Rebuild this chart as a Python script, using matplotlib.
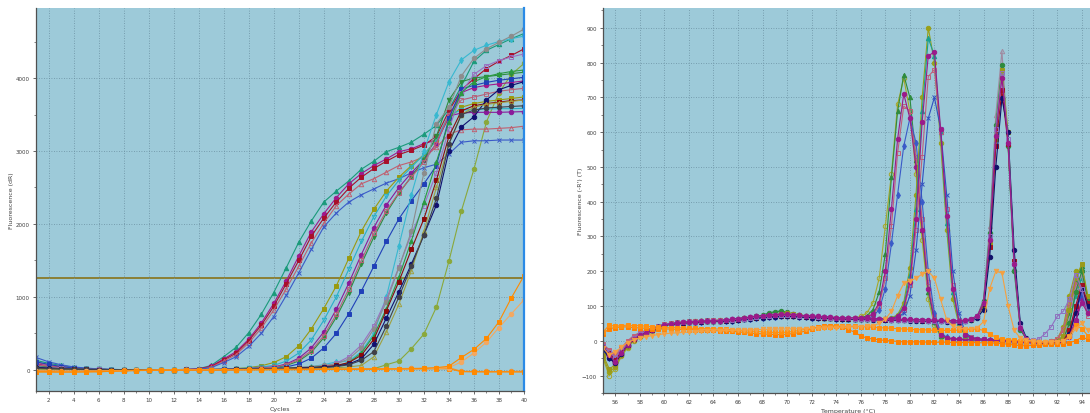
import numpy as np
import matplotlib.pyplot as plt
from matplotlib.ticker import MultipleLocator

# ---------------- amplification plot data (dR per cycle) ----------------
cycles = np.arange(1, 41)
threshold = 1260

amp_teal_tri = [130, 90, 60, 35, 20, 10, 5, 3, 2, 2,
                2, 3, 5, 15, 60, 180, 310, 510, 760, 1060,
                1400, 1750, 2040, 2300, 2450, 2590, 2750, 2860, 2990, 3050,
                3120, 3230, 3350, 3570, 3890, 4230, 4380, 4460, 4540, 4610]
amp_magenta_circ = [80, 60, 40, 25, 15, 8, 4, 2, 2, 2,
                    2, 3, 5, 12, 50, 150, 250, 420, 640, 910,
                    1220, 1560, 1890, 2140, 2360, 2550, 2690, 2800, 2890, 2990,
                    3030, 3100, 3150, 3480, 3800, 3870, 3900, 3920, 3940, 3960]
amp_red_sq = [60, 40, 30, 20, 12, 6, 3, 2, 2, 2,
              2, 3, 5, 10, 45, 135, 230, 400, 610, 870,
              1180, 1500, 1830, 2080, 2300, 2490, 2640, 2760, 2860, 2950,
              3010, 3080, 3200, 3550, 3840, 3990, 4130, 4230, 4310, 4400]
amp_pink_tri = [100, 70, 45, 28, 15, 8, 4, 2, 2, 2,
                2, 3, 4, 8, 35, 120, 210, 370, 570, 820,
                1110, 1420, 1740, 2010, 2250, 2410, 2550, 2620, 2710, 2800,
                2850, 2920, 3050, 3230, 3290, 3300, 3300, 3310, 3320, 3340]
amp_blue_x = [170, 110, 70, 40, 25, 12, 6, 3, 2, 2,
              2, 3, 4, 8, 30, 100, 180, 320, 500, 730,
              1020, 1330, 1650, 1960, 2150, 2300, 2400, 2480, 2560, 2620,
              2700, 2770, 2820, 2960, 3120, 3140, 3140, 3150, 3150, 3150]
amp_olive_sq = [40, 30, 20, 12, 8, 5, 3, 2, 2, 2,
                2, 2, 3, 4, 6, 10, 18, 30, 55, 100,
                180, 330, 560, 840, 1150, 1530, 1900, 2200, 2450, 2640,
                2800, 2950, 3150, 3450, 3600, 3650, 3680, 3700, 3720, 3740]
amp_cyan_tri = [50, 35, 25, 15, 10, 6, 3, 2, 2, 2,
                2, 2, 3, 4, 6, 9, 15, 25, 40, 60,
                120, 230, 410, 680, 1000, 1380, 1760, 2100, 2380, 2600,
                2780, 2950, 3150, 3500, 3560, 3570, 3575, 3580, 3580, 3585]
amp_purple_circ = [30, 20, 15, 10, 6, 4, 2, 2, 2, 2,
                   2, 2, 3, 3, 5, 8, 12, 18, 28, 40,
                   80, 160, 300, 520, 830, 1190, 1580, 1950, 2260, 2500,
                   2700, 2880, 3100, 3480, 3520, 3530, 3530, 3530, 3535, 3540]
amp_green_tri = [60, 40, 25, 15, 10, 6, 3, 2, 2, 2,
                 2, 2, 2, 3, 4, 6, 10, 15, 22, 30,
                 60, 120, 240, 440, 720, 1060, 1450, 1820, 2150, 2420,
                 2650, 2880, 3200, 3700, 3950, 4000, 4020, 4040, 4060, 4080]
amp_pink_sq = [70, 50, 30, 18, 10, 6, 3, 2, 2, 2,
               2, 2, 3, 3, 5, 8, 12, 18, 25, 35,
               70, 140, 260, 470, 760, 1110, 1500, 1870, 2180, 2430,
               2640, 2850, 3100, 3500, 3700, 3740, 3780, 3820, 3840, 3860]
amp_blue_sq = [110, 75, 45, 25, 15, 8, 4, 2, 2, 2,
               2, 2, 2, 3, 4, 6, 8, 12, 16, 20,
               40, 80, 160, 300, 500, 770, 1080, 1420, 1760, 2070,
               2320, 2550, 2800, 3450, 3850, 3900, 3940, 3970, 3990, 4010]
amp_cyan_dia = [20, 15, 10, 8, 5, 3, 2, 2, 2, 2,
                2, 2, 2, 2, 3, 4, 5, 7, 10, 14,
                20, 30, 45, 70, 110, 120, 250, 500, 1000, 1700,
                2400, 3000, 3500, 3950, 4250, 4380, 4450, 4500, 4540, 4575]
amp_lilac_sq = [40, 30, 20, 12, 8, 5, 3, 2, 2, 2,
                2, 2, 2, 2, 2, 3, 3, 4, 5, 8,
                12, 18, 28, 45, 90, 180, 340, 600, 970, 1410,
                1860, 2250, 2700, 3300, 3800, 4050, 4170, 4240, 4290, 4330]
amp_gray_circ = [30, 20, 14, 9, 6, 4, 2, 2, 2, 2,
                 2, 2, 2, 2, 3, 4, 5, 8, 12, 18,
                 25, 35, 45, 60, 80, 150, 300, 560, 930, 1400,
                 1900, 2700, 3370, 3600, 4030, 4270, 4400, 4490, 4575, 4670]
amp_green_tri2 = [25, 18, 12, 8, 5, 3, 2, 2, 2, 2,
                  2, 2, 2, 2, 3, 4, 5, 8, 12, 18,
                  22, 28, 34, 42, 50, 100, 230, 470, 840, 1270,
                  1770, 2300, 2850, 3400, 3800, 3950, 4020, 4060, 4090, 4110]
amp_maroon_sq = [20, 15, 10, 7, 5, 3, 2, 2, 2, 2,
                 2, 2, 2, 2, 3, 4, 5, 7, 10, 15,
                 20, 25, 32, 42, 60, 100, 200, 420, 810, 1210,
                 1650, 2070, 2600, 3200, 3550, 3620, 3650, 3670, 3690, 3700]
amp_navy_circ = [35, 25, 16, 10, 6, 4, 2, 2, 2, 2,
                 2, 2, 2, 2, 3, 4, 5, 7, 10, 14,
                 18, 22, 28, 36, 50, 80, 150, 350, 710, 1070,
                 1450, 1850, 2260, 3000, 3330, 3470, 3700, 3840, 3900, 3950]
amp_olive_tri = [15, 10, 8, 6, 4, 3, 2, 2, 2, 2,
                 2, 2, 2, 2, 2, 3, 4, 5, 7, 10,
                 12, 15, 18, 22, 28, 40, 60, 180, 520, 900,
                 1360, 1900, 2500, 3100, 3500, 3600, 3640, 3660, 3680, 3700]
amp_dgray_circ = [25, 18, 12, 8, 5, 3, 2, 2, 2, 2,
                  2, 2, 2, 2, 3, 4, 5, 7, 9, 12,
                  15, 20, 25, 32, 45, 70, 130, 250, 600, 1000,
                  1420, 1850, 2350, 3100, 3500, 3560, 3590, 3600, 3610, 3620]
amp_late_olive = [10, 8, 6, 4, 3, 2, 2, 2, 2, 2,
                  2, 2, 2, 2, 2, 2, 3, 3, 4, 4,
                  5, 5, 6, 7, 8, 9, 10, 15, 70, 120,
                  290, 490, 860, 1490, 2180, 2750, 3400, 3800, 4050, 4200]
amp_orange_sq = [-25, -25, -28, -28, -26, -25, -20, -15, -10, -8,
                 -6, -5, -4, -3, -2, -1, 0, 0, 1, 2,
                 2, 3, 4, 5, 6, 6, 7, 8, 10, 12,
                 15, 20, 30, 50, 170, 280, 430, 660, 990, 1290]
amp_orange_lt = [-20, -22, -24, -24, -22, -20, -16, -12, -8, -6,
                 -4, -3, -2, -1, 0, 0, 1, 1, 2, 2,
                 3, 3, 4, 4, 5, 5, 6, 7, 8, 10,
                 12, 15, 20, 30, 110, 230, 380, 580, 770, 960]
amp_orange_flat = [-30, -30, -30, -30, -28, -26, -20, -12, -8, -6,
                   -4, -3, -2, -1, 0, 1, 2, 3, 4, 5,
                   6, 6, 7, 8, 8, 9, 10, 10, 11, 12,
                   12, 13, 14, 15, -25, -28, -30, -28, -30, -30]
amp_orange_flat2 = [-10, -12, -15, -15, -14, -12, -10, -8, -6, -4,
                    -2, -1, 0, 1, 2, 3, 4, 5, 6, 7,
                    8, 9, 10, 11, 12, 13, 14, 15, 16, 18,
                    20, 22, 25, 30, -20, -22, -22, -24, -22, -20]

# ---------------- melt curve data (-R'(T), 55.0 .. 94.5 step 0.5) ----------------
temps = np.arange(55.0, 95.0, 0.5)

melt_g1_green = [-15, -35, -55, -30, -10, 8, 20, 26, 32, 40, 46, 49, 51, 53, 54, 55, 56, 57, 58, 58,
                 59, 60, 62, 64, 66, 68, 72, 78, 82, 85, 80, 75, 72, 70, 69, 68, 67, 66, 66, 65,
                 64, 64, 66, 72, 90, 140, 250, 470, 660, 765, 700, 520, 320, 140, 55, 15, 8, 6, 5, 4,
                 4, 3, 3, 2, 2, 1, 0, -1, -2, -3, -4, -5, -5, -4, -2, 15, 80, 170, 215, 120]
melt_g1_olive = [-50, -100, -80, -45, -20, 0, 12, 20, 28, 36, 44, 47, 50, 52, 54, 55, 56, 57, 57, 58,
                 58, 59, 61, 63, 65, 67, 69, 71, 72, 73, 73, 72, 71, 70, 69, 68, 67, 66, 65, 65,
                 65, 66, 70, 80, 110, 180, 330, 480, 680, 755, 660, 480, 290, 120, 45, 12, 7, 5, 4, 4,
                 3, 3, 2, 2, 1, 0, -1, -2, -3, -4, -5, -5, -5, -3, 0, 30, 110, 180, 140, 80]
melt_g1_magenta = [-20, -45, -70, -40, -15, 3, 15, 22, 30, 38, 45, 48, 50, 52, 53, 55, 56, 56, 57, 58,
                   60, 62, 64, 66, 68, 70, 72, 74, 75, 76, 76, 75, 74, 72, 71, 70, 69, 68, 67, 66,
                   65, 65, 65, 68, 78, 110, 200, 380, 580, 710, 640, 500, 320, 150, 60, 18, 8, 5, 4, 3,
                   3, 2, 2, 1, 0, -1, -2, -3, -4, -5, -6, -6, -6, -5, -4, -2, 10, 50, 120, 90]
melt_g1_pink = [-10, -25, -40, -20, 0, 15, 24, 30, 36, 42, 48, 51, 53, 55, 56, 57, 58, 59, 60, 60,
                60, 61, 62, 63, 65, 66, 68, 69, 70, 71, 71, 70, 69, 68, 67, 66, 66, 65, 64, 64,
                63, 63, 63, 66, 75, 100, 180, 330, 540, 675, 660, 530, 350, 170, 70, 20, 9, 6, 5, 4,
                4, 3, 3, 2, 2, 1, 0, -1, -2, -3, -4, -4, -3, -1, 5, 30, 90, 160, 130, 70]
melt_g1_blue = [-25, -50, -60, -35, -12, 5, 18, 25, 32, 40, 46, 49, 51, 52, 53, 54, 55, 56, 57, 57,
                57, 58, 60, 62, 63, 65, 67, 68, 69, 70, 70, 70, 69, 68, 67, 66, 66, 65, 64, 64,
                63, 63, 63, 64, 70, 90, 150, 280, 420, 560, 640, 570, 400, 200, 80, 25, 10, 6, 5, 4,
                4, 3, 2, 2, 1, 0, -1, -2, -3, -4, -5, -5, -5, -4, -3, 0, 20, 80, 140, 100]
melt_g2_olive = [-45, -90, -75, -40, -18, 2, 14, 22, 30, 38, 45, 48, 51, 53, 55, 56, 57, 58, 58, 59,
                 60, 61, 63, 65, 67, 69, 71, 72, 73, 73, 72, 71, 70, 69, 68, 67, 66, 65, 65, 64,
                 64, 64, 63, 63, 63, 63, 64, 66, 75, 110, 210, 420, 700, 900, 800, 570, 320, 120, 45, 14,
                 8, 5, 4, 3, 2, 1, 0, -1, -2, -3, -4, -4, -3, -1, 5, 40, 130, 200, 160, 90]
melt_g2_teal = [-15, -35, -50, -28, -8, 10, 22, 28, 34, 41, 47, 50, 52, 54, 55, 56, 57, 58, 58, 59,
                60, 61, 63, 65, 67, 69, 71, 73, 74, 75, 74, 73, 72, 71, 70, 69, 68, 67, 66, 65,
                64, 64, 64, 63, 63, 63, 63, 65, 72, 100, 190, 380, 660, 870, 820, 600, 340, 140, 50, 16,
                8, 6, 4, 3, 2, 1, 0, -1, -2, -3, -4, -5, -5, -4, -2, 5, 50, 130, 180, 120]
melt_g2_magenta = [-20, -40, -65, -38, -14, 4, 16, 23, 31, 39, 46, 49, 51, 53, 54, 55, 56, 57, 58, 58,
                   60, 62, 64, 66, 68, 70, 72, 74, 76, 77, 77, 76, 74, 72, 70, 69, 68, 67, 66, 65,
                   65, 65, 64, 64, 63, 63, 63, 64, 70, 95, 170, 350, 630, 820, 830, 610, 360, 150, 55, 18,
                   9, 6, 4, 3, 2, 1, 0, -1, -2, -4, -5, -6, -6, -5, -4, -2, 20, 90, 150, 110]
melt_g2_pink = [-12, -28, -45, -24, -3, 12, 22, 28, 34, 41, 47, 50, 52, 54, 55, 56, 57, 58, 59, 59,
                60, 61, 62, 64, 65, 67, 68, 70, 71, 72, 72, 71, 70, 69, 68, 67, 66, 65, 65, 64,
                64, 64, 63, 63, 63, 63, 63, 64, 68, 90, 160, 320, 530, 760, 780, 600, 380, 160, 60, 20,
                10, 6, 4, 3, 2, 1, 0, -1, -2, -3, -4, -4, -3, -1, 5, 35, 110, 170, 150, 100]
melt_g2_blue = [-22, -48, -58, -33, -11, 6, 18, 25, 32, 40, 46, 49, 51, 52, 53, 54, 55, 56, 57, 57,
                58, 59, 60, 62, 64, 65, 67, 68, 69, 70, 70, 70, 69, 68, 67, 66, 66, 65, 64, 64,
                63, 63, 63, 63, 63, 62, 62, 63, 66, 80, 130, 260, 450, 640, 700, 610, 420, 200, 80, 25,
                10, 6, 4, 3, 2, 1, 0, -1, -2, -3, -4, -5, -5, -4, -3, 0, 25, 90, 130, 90]
melt_g3_gray = [-18, -38, -52, -30, -10, 7, 19, 26, 32, 40, 46, 49, 51, 53, 54, 55, 56, 57, 57, 58,
                59, 60, 62, 64, 66, 68, 70, 71, 72, 72, 72, 72, 71, 70, 69, 68, 67, 66, 66, 65,
                65, 64, 64, 63, 63, 62, 62, 61, 61, 60, 60, 60, 59, 59, 58, 58, 57, 57, 57, 58,
                62, 72, 120, 330, 650, 832, 570, 210, 35, 5, 0, -3, -4, -4, -2, 10, 60, 150, 190, 110]
melt_g3_green = [-20, -42, -62, -36, -12, 5, 17, 24, 31, 39, 45, 48, 50, 52, 54, 55, 56, 57, 58, 58,
                 59, 61, 63, 65, 67, 70, 74, 80, 84, 86, 82, 77, 73, 71, 70, 69, 68, 67, 66, 65,
                 65, 64, 64, 63, 63, 62, 62, 61, 61, 60, 60, 59, 59, 58, 58, 57, 57, 56, 56, 57,
                 61, 70, 115, 310, 620, 794, 560, 200, 32, 4, -1, -3, -5, -5, -3, 5, 50, 140, 200, 120]
melt_g3_olive = [-40, -80, -70, -40, -16, 3, 15, 22, 30, 38, 45, 48, 50, 52, 54, 55, 56, 57, 57, 58,
                 58, 59, 61, 63, 65, 67, 69, 72, 75, 78, 80, 78, 75, 72, 70, 68, 67, 66, 65, 65,
                 64, 64, 63, 63, 62, 62, 61, 61, 60, 60, 60, 59, 59, 58, 58, 57, 57, 57, 56, 57,
                 60, 68, 100, 280, 580, 780, 600, 230, 40, 6, 0, -2, -4, -4, -2, 15, 90, 180, 220, 130]
melt_g3_magenta = [-18, -40, -60, -35, -13, 4, 16, 23, 31, 39, 46, 49, 51, 53, 54, 55, 56, 57, 58, 58,
                   60, 62, 64, 66, 68, 70, 72, 74, 75, 76, 76, 75, 74, 72, 71, 70, 69, 68, 67, 66,
                   66, 66, 65, 65, 64, 64, 63, 63, 62, 62, 62, 61, 61, 60, 60, 59, 59, 58, 58, 60,
                   64, 72, 110, 290, 590, 757, 570, 220, 38, 5, -2, -5, -6, -6, -5, -3, 15, 60, 110, 80]
melt_g3_red = [-16, -36, -54, -31, -11, 6, 18, 25, 31, 39, 45, 48, 50, 52, 53, 54, 55, 56, 57, 57,
               58, 59, 61, 63, 65, 67, 69, 70, 71, 72, 72, 71, 70, 69, 68, 67, 66, 65, 65, 64,
               64, 63, 63, 62, 62, 61, 61, 60, 60, 60, 59, 59, 58, 58, 57, 57, 56, 56, 56, 58,
               62, 70, 105, 270, 560, 720, 566, 230, 40, 6, 0, -3, -4, -4, -3, 0, 30, 100, 160, 110]
melt_g3_navy = [-24, -50, -64, -37, -13, 4, 16, 24, 31, 39, 45, 48, 50, 52, 53, 54, 55, 56, 57, 57,
                57, 58, 60, 62, 63, 65, 67, 68, 69, 70, 70, 70, 69, 68, 67, 66, 66, 65, 64, 64,
                63, 63, 62, 62, 61, 61, 60, 60, 59, 59, 58, 58, 57, 57, 56, 56, 55, 55, 55, 57,
                60, 66, 90, 240, 500, 697, 600, 260, 50, 8, 0, -3, -5, -5, -4, -2, 20, 80, 150, 100]
melt_g3_lilac = [-15, -32, -48, -27, -8, 9, 20, 27, 33, 40, 46, 49, 51, 53, 54, 55, 56, 57, 58, 58,
                 59, 60, 62, 64, 66, 68, 70, 72, 73, 74, 74, 73, 72, 71, 70, 69, 68, 67, 66, 65,
                 65, 64, 64, 63, 63, 62, 62, 61, 61, 60, 60, 59, 59, 58, 58, 57, 57, 56, 56, 58,
                 62, 70, 110, 300, 610, 770, 580, 220, 40, 6, 2, 5, 20, 40, 70, 85, 120, 190, 150, 80]
melt_or_tri = [-20, -40, -32, -18, -5, 3, 8, 12, 15, 18, 20, 22, 23, 24, 25, 26, 27, 28, 28, 29,
               30, 30, 31, 31, 32, 32, 33, 33, 34, 34, 34, 35, 35, 35, 36, 36, 37, 38, 38, 39,
               40, 40, 41, 42, 44, 50, 62, 85, 130, 165, 172, 180, 192, 200, 180, 120, 60, 42, 36, 35,
               35, 38, 55, 150, 200, 195, 100, 30, 8, 2, 0, -2, -3, -3, -2, 0, 10, 35, 50, 30]
melt_or_sq = [25, 45, 42, 44, 45, 43, 44, 42, 40, 40, 38, 38, 38, 37, 36, 36, 35, 35, 34, 34,
              33, 32, 30, 29, 28, 27, 26, 25, 24, 24, 25, 27, 30, 33, 36, 38, 40, 41, 42, 42,
              42, 42, 41, 40, 39, 38, 37, 36, 35, 34, 33, 32, 32, 31, 30, 30, 30, 30, 31, 32,
              33, 34, 30, 20, 10, 5, 3, 1, 0, -2, -3, -4, -4, -3, -2, 0, 15, 45, 35, 15]
melt_or_circ = [20, 35, 38, 40, 40, 38, 37, 36, 35, 35, 34, 34, 33, 33, 32, 32, 31, 30, 30, 29,
                28, 27, 26, 24, 22, 21, 20, 19, 18, 18, 19, 21, 24, 28, 34, 40, 43, 43, 43, 40,
                32, 25, 14, 8, 5, 3, 1, 0, -2, -3, -3, -3, -3, -4, -4, -4, -4, -5, -5, -5,
                -5, -5, -6, -6, -7, -8, -10, -12, -14, -14, -13, -12, -10, -9, -8, -8, -5, 0, 10, 5]

# ---------------- styles ----------------
amp_series = [
    (amp_late_olive, "#8aa83a", "o", True),
    (amp_teal_tri, "#1a9a7a", "^", True),
    (amp_magenta_circ, "#a0188c", "o", True),
    (amp_red_sq, "#a8102a", "s", True),
    (amp_pink_tri, "#c06070", "^", False),
    (amp_blue_x, "#3a5ac8", "x", True),
    (amp_olive_sq, "#9a9a10", "s", True),
    (amp_cyan_tri, "#28b0c8", "v", False),
    (amp_purple_circ, "#8a1a9a", "o", True),
    (amp_green_tri, "#2e8b3e", "v", True),
    (amp_pink_sq, "#b86078", "s", False),
    (amp_blue_sq, "#2040b8", "s", True),
    (amp_cyan_dia, "#38b8d0", "d", True),
    (amp_lilac_sq, "#9a70c0", "s", False),
    (amp_gray_circ, "#8c8c8c", "o", True),
    (amp_green_tri2, "#2a9a40", "^", True),
    (amp_maroon_sq, "#8b0a0a", "s", True),
    (amp_navy_circ, "#101070", "o", True),
    (amp_olive_tri, "#a0a040", "^", False),
    (amp_dgray_circ, "#404048", "o", True),
    (amp_orange_flat2, "#f09030", "o", True),
    (amp_orange_flat, "#ff8a00", "s", True),
    (amp_orange_lt, "#f4a860", "o", True),
    (amp_orange_sq, "#ff8a00", "s", True),
]

melt_series = [
    (melt_g1_olive, "#a8a828", "o", False),
    (melt_g1_green, "#2e8b3e", "^", True),
    (melt_g1_pink, "#c0607a", "s", False),
    (melt_g1_blue, "#3a5ac8", "d", True),
    (melt_g1_magenta, "#9a1a8a", "o", True),
    (melt_g2_olive, "#9aa018", "o", True),
    (melt_g2_teal, "#1aa090", "^", True),
    (melt_g2_pink, "#c0607a", "s", False),
    (melt_g2_blue, "#3050c0", "x", True),
    (melt_g2_magenta, "#9a1a8a", "o", True),
    (melt_g3_gray, "#a08aa0", "^", False),
    (melt_g3_green, "#2e8b3e", "o", True),
    (melt_g3_olive, "#9a9a1a", "s", True),
    (melt_g3_red, "#a01020", "s", True),
    (melt_g3_navy, "#10106a", "o", True),
    (melt_g3_lilac, "#9070c0", "s", False),
    (melt_g3_magenta, "#9a1a8a", "o", True),
    (melt_or_circ, "#ff8000", "s", True),
    (melt_or_sq, "#ff9010", "s", True),
    (melt_or_tri, "#f5a040", "v", True),
]

BG = "#9dcad9"
GRID = "#6a8fa0"
TXT = "#404040"


def style_axes(ax):
    ax.set_facecolor(BG)
    ax.grid(True, which="major", linestyle=(0, (1, 2)), color=GRID, linewidth=0.6)
    ax.tick_params(which="both", direction="out", colors="#505050", labelsize=4, labelcolor=TXT, pad=2)
    ax.tick_params(which="major", length=2.5, width=0.6)
    ax.tick_params(which="minor", length=1.5, width=0.5)
    ax.spines["top"].set_visible(False)
    for s in ["left", "bottom"]:
        ax.spines[s].set_color("#505050")
        ax.spines[s].set_linewidth(0.9)


def draw(ax, x, series):
    for data, color, marker, filled in series:
        ax.plot(x, data, color=color, lw=0.8, marker=marker, markersize=3.2,
                markeredgewidth=0.7, markerfacecolor=color if filled else "none",
                markeredgecolor=color)


fig = plt.figure(figsize=(10.9, 4.14), dpi=100)

# ---- left: amplification plot ----
ax1 = fig.add_axes([36 / 1090, 1 - 392 / 414, 488 / 1090, 383 / 414])
style_axes(ax1)
ax1.axhline(threshold, color="#8a7a28", lw=1.3, zorder=1)
draw(ax1, cycles, amp_series)
ax1.set_xlim(1, 40)
ax1.set_ylim(-290, 4960)
ax1.xaxis.set_major_locator(MultipleLocator(2))
ax1.xaxis.set_minor_locator(MultipleLocator(1))
ax1.yaxis.set_major_locator(MultipleLocator(1000))
ax1.yaxis.set_minor_locator(MultipleLocator(500))
ax1.spines["right"].set_color("#2a8ae6")
ax1.spines["right"].set_linewidth(1.6)
ax1.set_xlabel("Cycles", fontsize=4.5, color=TXT, labelpad=3)
ax1.set_ylabel("Fluorescence (dR)", fontsize=4.5, color=TXT)
ax1.yaxis.set_label_coords(-22 / 488, 0.5)

# ---- right: melt curves ----
ax2 = fig.add_axes([603 / 1090, 1 - 394 / 414, 491 / 1090, 385 / 414])
style_axes(ax2)
ax2.spines["right"].set_visible(False)
draw(ax2, temps, melt_series)
ax2.set_xlim(55, 95)
ax2.set_ylim(-150, 957)
ax2.xaxis.set_major_locator(MultipleLocator(2))
ax2.xaxis.set_minor_locator(MultipleLocator(1))
ax2.yaxis.set_major_locator(MultipleLocator(100))
ax2.yaxis.set_minor_locator(MultipleLocator(50))
ax2.set_xlabel("Temperature (\u00b0C)", fontsize=4.5, color=TXT, labelpad=3)
ax2.set_ylabel("Fluorescence (-R') (T)", fontsize=4.5, color=TXT)
ax2.yaxis.set_label_coords(-20 / 491, 0.5)

fig.savefig("out.png", dpi=100, facecolor="white")
